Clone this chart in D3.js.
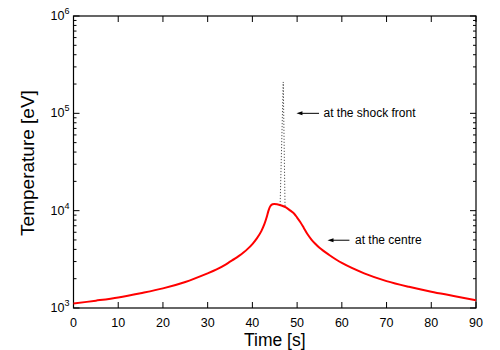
<!DOCTYPE html>
<html><head><meta charset="utf-8">
<script src="https://cdn.jsdelivr.net/npm/d3@7"></script>
<style>
body{margin:0;background:#fff;}
svg text{font-family:"Liberation Sans",Arial,Helvetica,sans-serif;fill:#000;}
</style></head>
<body><svg id="c" width="500" height="350"></svg>
<script>
const centreTime = [0,5,10,15,20,25,30,32,34,35,36,37,38,39,40,41,42,42.7,43.2,43.6,44,44.5,45.5,46.5,47.5,48.5,49.3,50,50.7,51.5,52.3,53.2,54,55,57,60,65,70,75,80,85,90];
const centreTemp = [1110,1190,1285,1420,1590,1850,2270,2489,2793,2992,3192,3428,3715,4074,4539,5188,6166,7304,8581,10000,11090,11640,11640,11300,10800,10000,9350,8500,7650,6650,5750,5050,4600,4150,3550,2900,2270,1890,1650,1470,1330,1200];
const shockTime = [46.2,46.9,47.3];
const shockTemp = [11400,210000,11000];
const xTicks = [0,10,20,30,40,50,60,70,80,90];
const yTicks = [1e3,1e4,1e5,1e6];
const yExp = ["3","4","5","6"];
const annotations = [
  {text:"at the shock front", tHead:49.85, tTail:54.9, tText:55.9, T:1e5},
  {text:"at the centre", tHead:56.8, tTail:61.7, tText:62.95, T:4970}
];

const svg = d3.select("#c");
const L=73.5, R=476, T=16, B=308;
const x = d3.scaleLinear().domain([0,90]).range([L,R]);
const y = d3.scaleLog().domain([1e3,1e6]).range([B,T]);

const minor = [];
for (let d=1e3; d<1e6; d*=10) for (let k=2;k<=9;k++) minor.push(d*k);

const g = svg.append("g");
xTicks.forEach(v=>{
  g.append("line").attr("x1",x(v)).attr("x2",x(v)).attr("y1",B).attr("y2",B-6).attr("stroke","#000");
  g.append("line").attr("x1",x(v)).attr("x2",x(v)).attr("y1",T).attr("y2",T+6).attr("stroke","#000");
  g.append("text").attr("x",x(v)).attr("y",B+19).attr("text-anchor","middle").attr("font-size",12.5).text(v);
});
yTicks.forEach((v,i)=>{
  g.append("line").attr("x1",L).attr("x2",L+6).attr("y1",y(v)).attr("y2",y(v)).attr("stroke","#000");
  g.append("line").attr("x1",R).attr("x2",R-6).attr("y1",y(v)).attr("y2",y(v)).attr("stroke","#000");
  const t = g.append("text").attr("x",L-4).attr("y",y(v)+4).attr("text-anchor","end").attr("font-size",12.5);
  t.append("tspan").text("10");
  t.append("tspan").attr("dy",-6).attr("font-size",9).text(yExp[i]);
});
minor.forEach(v=>{
  g.append("line").attr("x1",L).attr("x2",L+3).attr("y1",y(v)).attr("y2",y(v)).attr("stroke","#000");
  g.append("line").attr("x1",R).attr("x2",R-3).attr("y1",y(v)).attr("y2",y(v)).attr("stroke","#000");
});

svg.append("rect").attr("x",L).attr("y",T).attr("width",R-L).attr("height",B-T)
  .attr("fill","none").attr("stroke","#000").attr("stroke-width",1.2);

const line = d3.line().x(d=>x(d[0])).y(d=>y(d[1]));
svg.append("path").datum(shockTime.map((t,i)=>[t,shockTemp[i]]))
  .attr("d",line).attr("fill","none").attr("stroke","#555").attr("stroke-width",1).attr("stroke-dasharray","1.2,1.8");

svg.append("path").datum(centreTime.map((t,i)=>[t,centreTemp[i]]))
  .attr("d",d3.line().x(d=>x(d[0])).y(d=>y(d[1])).curve(d3.curveCatmullRom.alpha(0.5)))
  .attr("fill","none").attr("stroke","#ff0000").attr("stroke-width",2).attr("stroke-linejoin","round");

annotations.forEach(a=>{
  const yy=y(a.T), xh=x(a.tHead), xt=x(a.tTail);
  svg.append("line").attr("x1",xh+4).attr("x2",xt).attr("y1",yy).attr("y2",yy).attr("stroke","#000").attr("stroke-width",1);
  svg.append("path").attr("d",`M${xh},${yy} L${xh+6},${yy-2} L${xh+6},${yy+2} Z`).attr("fill","#000");
  svg.append("text").attr("x",x(a.tText)).attr("y",yy+4).attr("font-size",12).text(a.text);
});

svg.append("text").attr("x",(L+R)/2).attr("y",346).attr("text-anchor","middle").attr("font-size",17.5).text("Time [s]");
svg.append("text").attr("transform","translate(34,163) rotate(-90)").attr("text-anchor","middle").attr("font-size",19).text("Temperature [eV]");
</script></body></html>
